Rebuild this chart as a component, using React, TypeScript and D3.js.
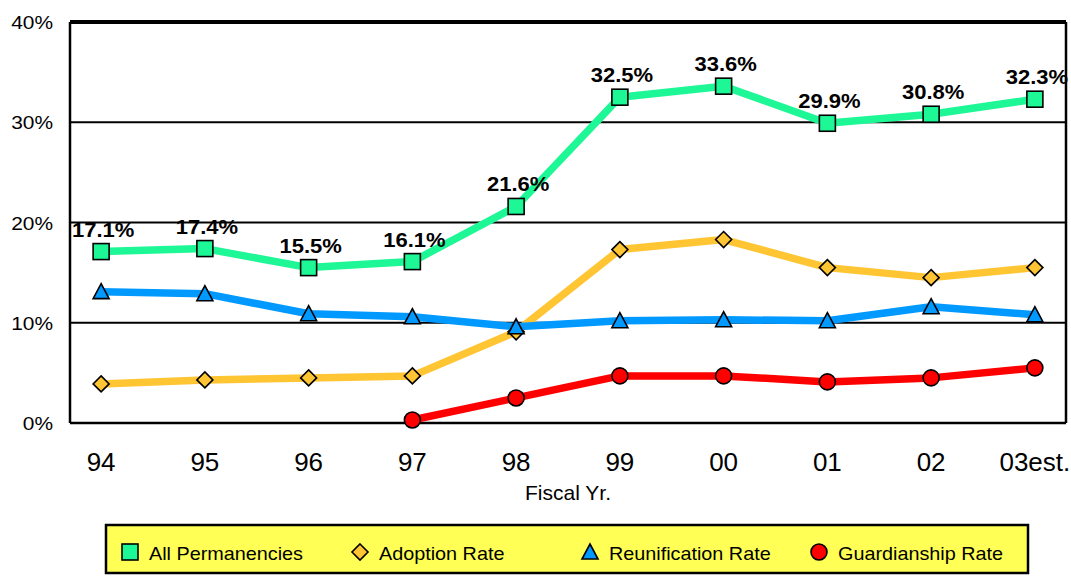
import React from "react";
import * as d3 from "d3";

const categories = ["94", "95", "96", "97", "98", "99", "00", "01", "02", "03est."];
const allPermanencies = [17.1, 17.4, 15.5, 16.1, 21.6, 32.5, 33.6, 29.9, 30.8, 32.3];
const adoptionRate = [3.9, 4.3, 4.5, 4.7, 9.1, 17.3, 18.3, 15.5, 14.5, 15.5];
const reunificationRate = [13.1, 12.9, 10.9, 10.6, 9.6, 10.2, 10.3, 10.2, 11.6, 10.8];
const guardianshipRate: (number | null)[] = [null, null, null, 0.3, 2.5, 4.7, 4.7, 4.1, 4.5, 5.5];
const yTicks = [0, 10, 20, 30, 40];
const seriesNames = ["All Permanencies", "Adoption Rate", "Reunification Rate", "Guardianship Rate"];

const W = 1071;
const H = 576;
const L = 70, R = 1066, T = 22, B = 423;
const FONT = "'Liberation Sans', Arial, Helvetica, sans-serif";
const STRETCH = 1.1;

type Shape = "square" | "diamond" | "triangle" | "circle";

function Marker({ shape, x, y, fill, s = 16 }: { shape: Shape; x: number; y: number; fill: string; s?: number }) {
  const h = s / 2;
  const common = { fill, stroke: "#000", strokeWidth: 1.6 };
  if (shape === "square") return <rect x={x - h} y={y - h} width={s} height={s} {...common} />;
  if (shape === "diamond")
    return <path d={`M${x},${y - h}L${x + h},${y}L${x},${y + h}L${x - h},${y}Z`} {...common} />;
  if (shape === "triangle")
    return <path d={`M${x},${y - h}L${x + h},${y + h - 1}L${x - h},${y + h - 1}Z`} {...common} />;
  return <circle cx={x} cy={y} r={h} {...common} />;
}

function SText({ x, y, children, anchor = "start", size, bold = false }: { x: number; y: number; children: React.ReactNode; anchor?: string; size: number; bold?: boolean }) {
  return (
    <g transform={`translate(${x},${y}) scale(${STRETCH},1)`}>
      <text x={0} y={0} textAnchor={anchor as any} fontSize={size} fontWeight={bold ? "bold" : "normal"} fill="#000">
        {children}
      </text>
    </g>
  );
}

export default function App() {
  const x = d3.scalePoint<string>().domain(categories).range([L, R]).padding(0.3);
  const y = d3.scaleLinear().domain([0, 40]).range([B, T]);

  const series: { name: string; values: (number | null)[]; color: string; shape: Shape }[] = [
    { name: seriesNames[0], values: allPermanencies, color: "#1DF796", shape: "square" },
    { name: seriesNames[1], values: adoptionRate, color: "#FFC533", shape: "diamond" },
    { name: seriesNames[2], values: reunificationRate, color: "#0099FF", shape: "triangle" },
    { name: seriesNames[3], values: guardianshipRate, color: "#FF0000", shape: "circle" },
  ];

  const line = d3
    .line<number | null>()
    .defined((d) => d !== null)
    .x((_, i) => x(categories[i])!)
    .y((d) => y(d as number));

  const legendItems = [
    { cx: 130, tx: 149 },
    { cx: 360, tx: 379 },
    { cx: 590, tx: 609 },
    { cx: 819, tx: 838 },
  ];

  return (
    <svg width={W} height={H} style={{ position: "absolute", left: 0, top: 0, background: "#fff" }} fontFamily={FONT}>
      {/* gridlines */}
      {yTicks.slice(1, 4).map((t) => (
        <line key={t} x1={L} x2={R} y1={y(t)} y2={y(t)} stroke="#000" strokeWidth={2} />
      ))}
      {/* frame */}
      <line x1={L} x2={R} y1={T} y2={T} stroke="#000" strokeWidth={4} />
      <line x1={L} x2={R} y1={B} y2={B} stroke="#000" strokeWidth={2.5} />
      <line x1={L} x2={L} y1={T} y2={B} stroke="#000" strokeWidth={2.5} />
      <line x1={R} x2={R} y1={T} y2={B} stroke="#000" strokeWidth={2.5} />

      {/* y axis labels */}
      {yTicks.map((t) => (
        <SText key={t} x={53} y={y(t) + 7} anchor="end" size={19}>
          {t}%
        </SText>
      ))}
      {/* x axis labels */}
      {categories.map((c) => (
        <text key={c} x={x(c)} y={471} textAnchor="middle" fontSize={26} fill="#000">
          {c}
        </text>
      ))}
      <text x={(L + R) / 2} y={500} textAnchor="middle" fontSize={21} fill="#000">
        Fiscal Yr.
      </text>

      {/* series */}
      {series.map((s) => (
        <g key={s.name}>
          <path d={line(s.values) || ""} fill="none" stroke={s.color} strokeWidth={7.5} strokeLinejoin="round" />
          {s.values.map((v, i) =>
            v === null ? null : <Marker key={i} shape={s.shape} x={x(categories[i])!} y={y(v)} fill={s.color} />
          )}
        </g>
      ))}
      {/* data labels */}
      {allPermanencies.map((v, i) => (
        <SText key={i} x={x(categories[i])! + 2} y={y(v) - 15} anchor="middle" size={20} bold>
          {v.toFixed(1)}%
        </SText>
      ))}

      {/* legend */}
      <rect x={106} y={525} width={922} height={48} fill="#FFFF55" stroke="#000" strokeWidth={2.5} />
      {series.map((s, i) => (
        <g key={s.name}>
          <Marker shape={s.shape} x={legendItems[i].cx} y={552} fill={s.color} s={16} />
          <SText x={legendItems[i].tx} y={560} size={18}>
            {s.name}
          </SText>
        </g>
      ))}
    </svg>
  );
}
